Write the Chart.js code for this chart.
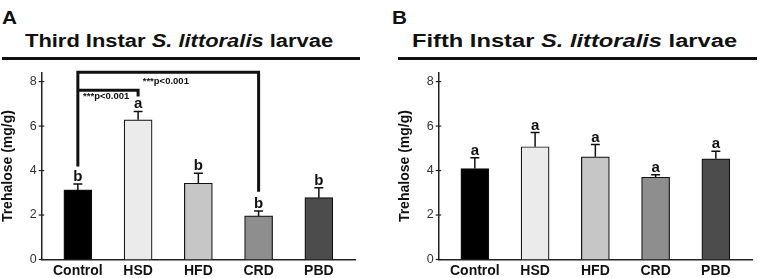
<!DOCTYPE html>
<html>
<head>
<meta charset="utf-8">
<script src="https://cdn.jsdelivr.net/npm/chart.js@4.4.0/dist/chart.umd.min.js"></script>
<style>
  body { margin: 0; background: #fff; width: 759px; height: 278px; overflow: hidden; position: relative;
         font-family: "Liberation Sans", Arial, sans-serif; color: #111; }
  .letter { position: absolute; font-weight: bold; font-size: 18px; transform: scaleX(1.15); transform-origin: 0 0; }
  .title { position: absolute; font-weight: bold; font-size: 18px; white-space: nowrap; transform-origin: 0 0; }
  .rule { position: absolute; height: 3px; background: #111; }
  canvas { position: absolute; top: 0; }
</style>
</head>
<body>
<div class="letter" style="left:2px;top:8px">A</div>
<div class="title" id="titleA" data-w="308" style="left:25px;top:31px">Third Instar <i>S. littoralis</i> larvae</div>
<div class="rule" style="left:2px;top:57px;width:358px"></div>

<div class="letter" style="left:392px;top:8px">B</div>
<div class="title" id="titleB" data-w="325" style="left:412px;top:31px">Fifth Instar <i>S. littoralis</i> larvae</div>
<div class="rule" style="left:398px;top:57px;width:359px"></div>

<canvas id="chartA" width="362" height="278" style="left:0"></canvas>
<canvas id="chartB" width="362" height="278" style="left:397px"></canvas>

<script>
// data
const categories = ['Control', 'HSD', 'HFD', 'CRD', 'PBD'];
const thirdMeans = [3.13, 6.28, 3.43, 1.96, 2.78];
const thirdErrors = [0.26, 0.38, 0.45, 0.22, 0.45];
const thirdLetters = ['b', 'a', 'b', 'b', 'b'];
const fifthMeans = [4.09, 5.07, 4.62, 3.70, 4.53];
const fifthErrors = [0.48, 0.64, 0.55, 0.11, 0.34];
const fifthLetters = ['a', 'a', 'a', 'a', 'a'];
const barColors = ['#000000', '#ebebeb', '#c6c6c6', '#8e8e8e', '#4c4c4c'];
const yTicks = [0, 2, 4, 6, 8];

// significance brackets (category index / y value)
const thirdBrackets = [
  { from: 0, to: 3, y: 8.42, fromEnd: 4.18, toEnd: 3.05, label: '***p<0.001', labelX: 1.46, labelY: 7.9 },
  { from: 0, to: 1, y: 7.61, fromEnd: 7.61, toEnd: 7.33, label: '***p<0.001', labelX: 0.47, labelY: 7.22 }
];

const FONT = '"Liberation Sans", Arial, sans-serif';

document.querySelectorAll('.title').forEach(el => {
  el.style.transform = 'scaleX(' + (el.dataset.w / el.offsetWidth) + ')';
});

const extras = {
  id: 'extras',
  afterDatasetsDraw(chart, args, opts) {
    const { ctx, scales: { x, y }, chartArea } = chart;
    ctx.save();
    // y tick marks crossing the axis
    ctx.strokeStyle = '#222';
    ctx.lineWidth = 1.2;
    yTicks.forEach(v => {
      const py = y.getPixelForValue(v);
      ctx.beginPath();
      ctx.moveTo(chartArea.left - 3, py);
      ctx.lineTo(chartArea.left + 2.5, py);
      ctx.stroke();
    });
    // error bars + letters
    ctx.strokeStyle = '#111';
    ctx.lineWidth = 1.5;
    ctx.fillStyle = '#111';
    ctx.textAlign = 'center';
    ctx.textBaseline = 'alphabetic';
    ctx.font = 'bold 15px ' + FONT;
    opts.means.forEach((m, i) => {
      const px = x.getPixelForValue(i);
      const top = y.getPixelForValue(m + opts.errors[i]);
      const base = y.getPixelForValue(m);
      ctx.beginPath();
      ctx.moveTo(px, base);
      ctx.lineTo(px, top);
      ctx.moveTo(px - 4.5, top);
      ctx.lineTo(px + 4.5, top);
      ctx.stroke();
      ctx.fillText(opts.letters[i], px, top - 3);
    });
    // brackets
    ctx.lineWidth = 3;
    ctx.lineJoin = 'miter';
    ctx.font = 'bold 9.5px ' + FONT;
    (opts.brackets || []).forEach(b => {
      const x1 = x.getPixelForValue(b.from), x2 = x.getPixelForValue(b.to);
      const yy = y.getPixelForValue(b.y);
      ctx.beginPath();
      ctx.moveTo(x1, y.getPixelForValue(b.fromEnd));
      ctx.lineTo(x1, yy);
      ctx.lineTo(x2, yy);
      ctx.lineTo(x2, y.getPixelForValue(b.toEnd));
      ctx.stroke();
      ctx.fillText(b.label, x.getPixelForValue(b.labelX), y.getPixelForValue(b.labelY));
    });
    ctx.restore();
  }
};

function makeChart(id, means, errors, letters, brackets) {
  return new Chart(document.getElementById(id), {
    type: 'bar',
    data: {
      datasets: [{
        data: categories.map((c, i) => ({ x: i, y: means[i] })),
        backgroundColor: barColors,
        borderColor: '#111',
        borderWidth: 1.2,
        barThickness: 28
      }]
    },
    options: {
      responsive: false,
      animation: false,
      layout: { padding: { top: 72.7, right: 7, bottom: 0, left: 0 } },
      plugins: {
        legend: { display: false },
        tooltip: { enabled: false },
        extras: { means: means, errors: errors, letters: letters, brackets: brackets }
      },
      scales: {
        x: {
          type: 'linear',
          offset: false,
          min: -0.6,
          max: 4.6,
          afterBuildTicks: s => { s.ticks = categories.map((c, i) => ({ value: i })); },
          afterFit: s => { s.height = 18.5; },
          ticks: {
            callback: v => categories[v],
            autoSkip: false,
            maxRotation: 0,
            padding: 3.5,
            color: '#111',
            font: { family: FONT, size: 14, weight: 'bold' }
          },
          grid: { display: false, drawTicks: false, offset: false },
          border: { color: '#222', width: 1.5 }
        },
        y: {
          min: 0,
          max: 8.4,
          afterBuildTicks: s => { s.ticks = yTicks.map(v => ({ value: v })); },
          afterFit: s => { s.width = 41.7; },
          ticks: { padding: 5, color: '#333', font: { family: FONT, size: 12.5 } },
          grid: { display: false, drawTicks: false },
          border: { color: '#222', width: 1.5 },
          title: {
            display: true,
            text: 'Trehalose (mg/g)',
            color: '#111',
            padding: 0,
            font: { family: FONT, size: 14, weight: 'bold' }
          }
        }
      }
    },
    plugins: [extras]
  });
}

makeChart('chartA', thirdMeans, thirdErrors, thirdLetters, thirdBrackets);
makeChart('chartB', fifthMeans, fifthErrors, fifthLetters, []);
</script>
</body>
</html>
